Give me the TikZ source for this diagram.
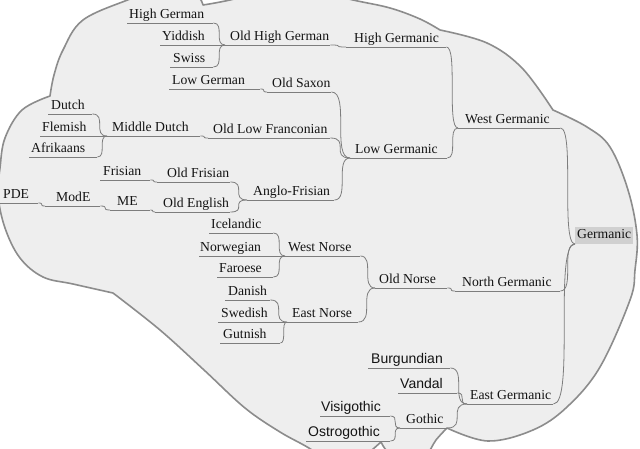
\documentclass[tikz,border=0pt]{standalone}
\usepackage{fontspec}
\setmainfont{Liberation Serif}
\newfontfamily\seriff{Liberation Serif}
\newfontfamily\sansf{Liberation Sans}
\usetikzlibrary{calc}
\definecolor{cloudfill}{RGB}{238,238,238}
\definecolor{cloudline}{RGB}{140,140,140}
\definecolor{linec}{RGB}{125,125,125}
\definecolor{rootfill}{RGB}{208,208,208}
\definecolor{txt}{RGB}{20,20,20}
\newcommand\lnode[7]{%
  \node[mm,#6] (#1) at (#2,#5) {\makebox[\dimexpr#4pt-#2pt\relax][l]{\hspace*{\dimexpr#3pt-#2pt\relax}#7}};
  \draw[uline] (#1.south west) -- (#1.south east);}
\newcommand\conn[2]{\draw[conn] let \p1=(#1.south east), \p2=(#2.south west) in (\p1) .. controls (\x2,\y1) and (\x1,\y2) .. (\p2);}
\begin{document}
\begin{tikzpicture}[x=1pt,y=-1pt,
  mm/.style={anchor=south west, inner sep=0pt, text height=10pt, text depth=4pt,
    font=\seriff\fontsize{13.7}{16}\selectfont, text=txt},
  sf/.style={font=\sansf\fontsize{14}{16}\selectfont},
  uline/.style={draw=linec, line width=0.8pt},
  conn/.style={draw=linec, line width=0.8pt},
  rootbox/.style={anchor=south west, fill=rootfill, minimum width=58pt, inner xsep=0pt,
    inner ysep=1.5pt, text height=10pt, text depth=4pt, font=\seriff\fontsize{13.7}{16}\selectfont, text=txt},
  cloud/.style={fill=cloudfill, draw=cloudline, line width=1.6pt, line join=round}]
\useasboundingbox (0,0) rectangle (640,449);
\fill[white] (0,0) rectangle (640,449);
\begin{scope}
\clip (0,0) rectangle (640,449);
\path[cloud] (113,293)
  -- plot[smooth,tension=0.6] coordinates {(113,293) (73,284) (43,277) (20,258) (5,228) (-2,195) (0,168) (5,138) (22,110) (50,96)}
  -- plot[smooth,tension=0.6] coordinates {(50,96) (54,75) (63,50) (83,20) (130,-1) (165,-14) (195,-6) (203,5)}
  -- plot[smooth,tension=0.6] coordinates {(203,5) (230,0) (290,-14) (353,0) (390,8) (420,19) (440,30)}
  -- plot[smooth,tension=0.6] coordinates {(440,30) (487,43) (522,68) (553,110)}
  -- plot[smooth,tension=0.6] coordinates {(553,110) (587,127) (610,147) (628,190) (637,235) (635,270) (630,300) (600,367) (567,407) (533,430) (488,441) (447,428)}
  -- plot[smooth,tension=0.6] coordinates {(447,428) (436,440) (425,456) (405,462) (388,452) (381,442)}
  -- plot[smooth,tension=0.6] coordinates {(381,442) (372,450) (355,465) (340,472)}
  -- plot[smooth,tension=0.6] coordinates {(340,472) (312,450) (280,432) (245,408) (204,370) (160,330) (113,293)}
  -- cycle;
\end{scope}
% nodes
\lnode{hg}{127}{129}{213}{23}{}{High German}
\lnode{yid}{160}{162}{222}{45}{}{Yiddish}
\lnode{sw}{170}{173}{213}{67}{}{Swiss}
\lnode{ohg}{225}{230}{330}{45}{}{Old High German}
\lnode{hgc}{346}{354}{446}{47}{}{High Germanic}
\lnode{wg}{458}{465}{560}{128}{}{West Germanic}
\lnode{lg}{169}{172}{260}{89}{}{Low German}
\lnode{os}{267}{272}{331}{92}{}{Old Saxon}
\lnode{lgc}{350}{355}{447}{158}{}{Low Germanic}
\lnode{du}{48}{51}{92}{114}{}{Dutch}
\lnode{fl}{40}{42}{105}{136}{}{Flemish}
\lnode{afr}{29}{31}{97}{157}{}{Afrikaans}
\lnode{md}{107}{112}{200}{136}{}{Middle Dutch}
\lnode{olf}{208}{213}{330}{138}{}{Old Low Franconian}
\lnode{fr}{100}{103}{150}{180}{}{Frisian}
\lnode{ofr}{157}{167}{230}{182}{}{Old Frisian}
\lnode{anf}{247}{253}{334}{200}{}{Anglo-Frisian}
\lnode{oe}{155}{163}{230}{212}{}{Old English}
\lnode{me}{110}{117}{150}{210}{}{ME}
\lnode{mode}{45}{56}{100}{206}{}{ModE}
\lnode{pde}{0}{3}{38}{203}{}{PDE}
\lnode{ic}{209}{211}{273}{233}{}{Icelandic}
\lnode{no}{199}{200}{283}{256}{}{Norwegian}
\lnode{fa}{217}{219}{273}{277}{}{Faroese}
\lnode{wn}{285}{288}{360}{256}{}{West Norse}
\lnode{on}{375}{379}{447}{288}{}{Old Norse}
\lnode{ng}{455}{462}{560}{291}{}{North Germanic}
\lnode{da}{225}{228}{270}{300}{}{Danish}
\lnode{swe}{218}{221}{285}{322}{}{Swedish}
\lnode{gu}{220}{223}{280}{343}{}{Gutnish}
\lnode{en}{287}{292}{358}{322}{}{East Norse}
\lnode{bu}{368}{371}{450}{368}{sf}{Burgundian}
\lnode{va}{398}{400}{457}{393}{sf}{Vandal}
\lnode{eg}{467}{470}{553}{404}{}{East Germanic}
\lnode{go}{400}{406}{447}{428}{}{Gothic}
\lnode{vi}{320}{321}{390}{416}{sf}{Visigothic}
\lnode{ost}{306}{308}{390}{441}{sf}{Ostrogothic}
\node[rootbox] (ger) at (575,244) {Germanic};
% connectors
\conn{hg}{ohg}\conn{yid}{ohg}\conn{sw}{ohg}\conn{ohg}{hgc}\conn{hgc}{wg}
\conn{lg}{os}\conn{os}{lgc}\conn{olf}{lgc}\conn{anf}{lgc}\conn{lgc}{wg}
\conn{du}{md}\conn{fl}{md}\conn{afr}{md}\conn{md}{olf}
\conn{fr}{ofr}\conn{ofr}{anf}\conn{oe}{anf}\conn{me}{oe}\conn{mode}{me}\conn{pde}{mode}
\conn{ic}{wn}\conn{no}{wn}\conn{fa}{wn}\conn{wn}{on}
\conn{da}{en}\conn{swe}{en}\conn{gu}{en}\conn{en}{on}\conn{on}{ng}
\conn{bu}{eg}\conn{va}{eg}\conn{go}{eg}\conn{vi}{go}\conn{ost}{go}
\conn{wg}{ger}\conn{ng}{ger}\conn{eg}{ger}
\end{tikzpicture}
\end{document}
